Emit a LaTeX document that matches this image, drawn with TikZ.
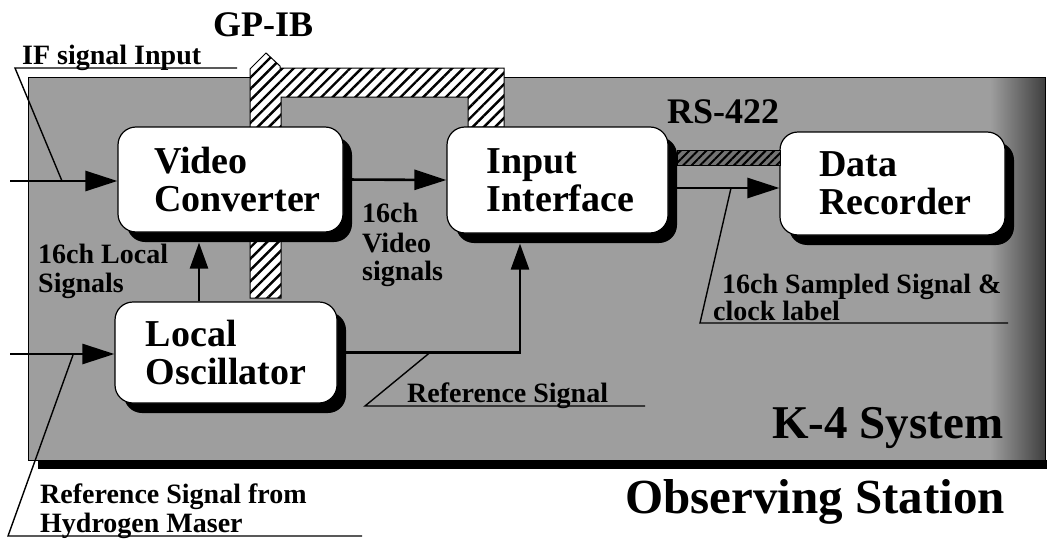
\documentclass[tikz,border=0pt]{standalone}
\usepackage{fontspec}
\setmainfont{Liberation Serif}
\usetikzlibrary{arrows.meta,patterns.meta,calc}
\begin{document}
\begin{tikzpicture}[x=1pt,y=-1pt,
  box/.style={draw=black, line width=1.2pt, fill=white, rounded corners=18pt,
    inner sep=0pt, align=left, font=\fontsize{38}{38}\selectfont\bfseries,
    preaction={fill=black, transform canvas={shift={(9pt,-10pt)}}}},
  arr/.style={line width=2.6pt, -{Triangle[length=32pt,width=20pt]}},
  varr/.style={line width=2.6pt, -{Triangle[length=26pt,width=18pt]}},
  thinl/.style={line width=1.4pt},
  lab/.style={anchor=base west, inner sep=0pt, font=\fontsize{28}{29}\selectfont\bfseries},
  big/.style={anchor=base west, inner sep=0pt, font=\fontsize{36}{38}\selectfont\bfseries},
  hatch/.style={draw=black, line width=1pt, preaction={fill=white},
    pattern={Lines[angle=45,distance=8pt,line width=2.4pt]}},
  bus/.style={draw=black, line width=1pt, preaction={fill=black!55},
    pattern={Lines[angle=45,distance=6pt,line width=2pt]}}
]
\useasboundingbox (0,0) rectangle (1051,543);
% panel
\fill[black] (38,460) rectangle (1047,469);
\fill[black!38] (28,77) rectangle (1045,460);
\shade[left color=black!38, right color=black!75] (990,77) rectangle (1045,460);
\draw[line width=1pt] (28,77) rectangle (1045,460);

% GP-IB bus
\path[hatch] (250,298) -- (250,69) -- (266,53) -- (280,66) -- (280,68) -- (504,68)
  -- (504,127) -- (468,127) -- (468,97) -- (281,97) -- (281,298) -- cycle;

% boxes
\node[box, minimum width=225pt, minimum height=105pt] (vc) at (230.5,179.5) {\hspace*{14pt}Video\\\hspace*{14pt}Converter};
\node[box, minimum width=222pt, minimum height=101pt] (lo) at (226,352.5) {Local\\Oscillator};
\node[box, minimum width=221pt, minimum height=106pt] (ii) at (557.5,180) {\hspace*{6pt}Input\\\hspace*{6pt}Interface};
\node[box, minimum width=225pt, minimum height=103pt] (dr) at (892.5,183.5) {\hspace*{6pt}Data\\\hspace*{6pt}Recorder};

% RS-422 bus
\path[bus] (677,150) rectangle (780,165);

% arrows
\coordinate (in1) at (10,181);
\coordinate (in2) at (10,354);
\draw[arr] (in1) -- (in1 -| vc.west);
\draw[arr] (in2) -- (in2 -| lo.west);
\draw[arr] (vc.east) -- (ii.west);
\coordinate (lv) at (199,302);
\coordinate (vcb) at ([yshift=-10pt]vc.south);
\draw[varr] (lv |- lo.north) -- (lv |- vcb);
\coordinate (bend) at (520,352.5);
\coordinate (iib) at ([yshift=-10pt]ii.south);
\draw[varr] (lo.east) -- (bend) -- (bend |- iib);
\coordinate (dra) at (677,188);
\draw[arr] (dra -| ii.east) -- (dra -| dr.west);

% titles
\node[big] (gpib) at (213,37) {GP-IB};
\node[big] (rs) at (667,123) {RS-422};
\node[anchor=base west, inner sep=0pt, font=\fontsize{47}{48}\selectfont\bfseries] (k4) at (772,438) {K-4 System};
\node[anchor=base west, inner sep=0pt, font=\fontsize{49}{50}\selectfont\bfseries] (obs) at (625,513) {Observing Station};

% callout labels
\node[lab] (ifl) at (22,64) {IF signal Input};
\draw[thinl] (237,68) -- (15,68) -- (62,181);

\node[lab] (rsf1) at (40,503) {Reference Signal from};
\node[lab] (rsf2) at (40,532) {Hydrogen Maser};
\draw[thinl] (362,536) -- (8,536) -- (73,355);

\node[lab] (loc1) at (38,263) {16ch Local};
\node[lab] (loc2) at (38,292) {Signals};

\node[lab] (vid1) at (362,222) {16ch};
\node[lab] (vid2) at (362,252) {Video};
\node[lab] (vid3) at (362,280) {signals};

\node[lab] (refs) at (407,402) {Reference Signal};
\draw[thinl] (645,406) -- (365,406) -- (430,352.5);

\node[lab] (smp1) at (722,293) {16ch Sampled Signal \&};
\node[lab] (smp2) at (713,320) {clock label};
\draw[thinl] (1008,323) -- (700,323) -- (731,188);
\end{tikzpicture}
\end{document}
